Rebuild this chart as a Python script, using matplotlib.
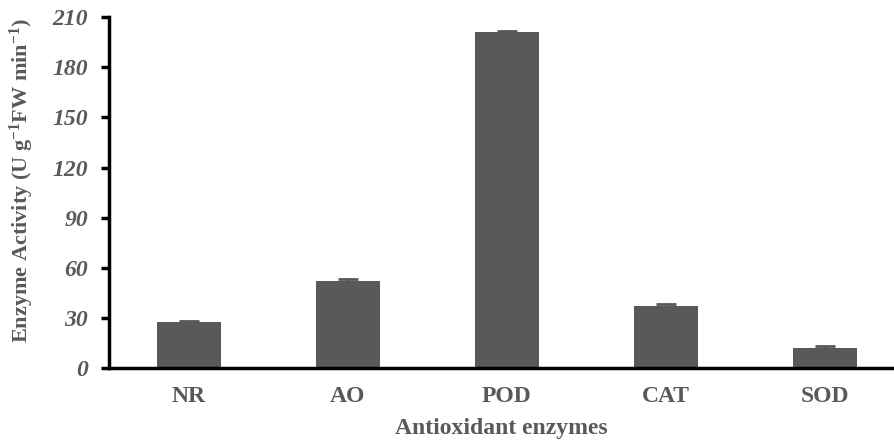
import matplotlib.pyplot as plt

plt.rcParams['font.family'] = 'Liberation Serif'
plt.rcParams['mathtext.fontset'] = 'custom'
plt.rcParams['mathtext.rm'] = 'Liberation Serif:bold'
plt.rcParams['mathtext.it'] = 'Liberation Serif:bold'

enzymes = ['NR', 'AO', 'POD', 'CAT', 'SOD']
activity = [27.7, 52.0, 200.9, 37.1, 11.8]
errors = [0.7, 1.2, 1.0, 1.0, 1.1]
yticks = [0, 30, 60, 90, 120, 150, 180, 210]

grey = '#595959'

fig = plt.figure(figsize=(8.94, 4.41), dpi=100)
ax = fig.add_axes([0.122, 0.1655, 0.877, 0.7955])

x = range(len(enzymes))
ax.bar(x, activity, width=0.4, color=grey, zorder=2)
ax.errorbar(x, activity, yerr=errors, fmt='none', ecolor=grey,
            elinewidth=2, capsize=7, capthick=2, zorder=3)

ax.set_ylim(0, 210)
ax.set_xlim(-0.503, 4.43)
ax.set_yticks(yticks)
ax.set_yticklabels([str(t) for t in yticks], fontsize=17, fontweight='bold',
                   fontstyle='italic', color=grey)
ax.set_xticks(list(x))
ax.set_xticklabels(enzymes, fontsize=17, fontweight='bold', color=grey)
ax.tick_params(axis='x', length=0, pad=13)
ax.tick_params(axis='y', direction='out', length=6, width=2.5, pad=9)

for s in ['top', 'right']:
    ax.spines[s].set_visible(False)
ax.spines['left'].set_linewidth(2.5)
ax.spines['bottom'].set_linewidth(2.5)

ax.set_xlabel('Antioxidant enzymes', fontsize=17, fontweight='bold',
              color=grey, labelpad=8)
ax.set_ylabel(r'Enzyme Activity (U g$^{-1}$FW min$^{-1}$)', fontsize=16,
              fontweight='bold', color=grey)
ax.yaxis.set_label_coords(-0.093, 0.535)

fig.savefig('out.png', dpi=100)
